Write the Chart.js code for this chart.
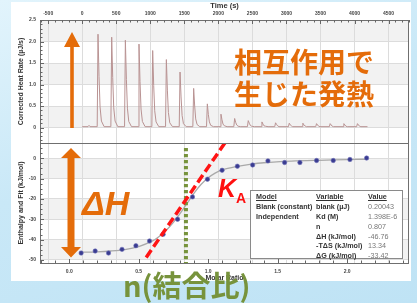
<!DOCTYPE html>
<html lang="ja">
<head>
<meta charset="UTF-8">
<title>ITC titration</title>
<script src="https://cdn.jsdelivr.net/npm/chart.js@4"></script>
<style>
    body {
        margin: 0;
        width: 417px;
        height: 303px;
        overflow: hidden;
        position: relative;
        background: linear-gradient(160deg, #e2f4fc 0%, #c9e8f7 45%, #bfe3f5 100%);
        font-family: "Liberation Sans", Arial, sans-serif;
    }
    #sheet {
        position: absolute;
        left: 11px; top: 2px;
        width: 400px; height: 279px;
        background: #fff;
    }
    canvas { position: absolute; left: 0; }
    #heatChart { top: 0; }
    #bindChart { top: 136px; }
    #ann { position: absolute; left: 0; top: 0; }
    #heatText {
        position: absolute; left: 234px; top: 45px;
        font: bold 28px "Noto Sans CJK JP", sans-serif;
        line-height: 32px; color: #e46c0a; white-space: nowrap;
    }
    #dH {
        position: absolute; left: 82px; top: 186px;
        font: italic bold 34px "Liberation Sans", Arial, sans-serif;
        line-height: 34px; color: #e46c0a;
    }
    #ka {
        position: absolute; left: 218px; top: 176px;
        font: italic bold 25px "Liberation Sans", Arial, sans-serif;
        line-height: 25px; color: #ff1010;
    }
    #ka span { font-style: normal; font-size: 14px; position: relative; top: 6px; }
    #nText {
        position: absolute; left: 123px; top: 267px;
        font: bold 29px "Noto Sans CJK JP", sans-serif;
        line-height: 34px; color: #77933c; white-space: nowrap;
    }
    #fitBox {
        position: absolute; left: 250px; top: 190px;
        width: 153px; height: 69px;
        border: 1px solid #8a8a8a; background: #fff;
        font-size: 7.2px; line-height: 9.9px;
        padding-top: 1px; box-sizing: border-box;
    }
    .row { position: relative; height: 9.9px; }
    .row span { position: absolute; top: 0; white-space: nowrap; }
    .c1 { left: 5px; font-weight: bold; color: #333; }
    .c2 { left: 65px; font-weight: bold; color: #333; }
    .c3 { left: 117px; color: #777; }
    .hd span { text-decoration: underline; font-weight: bold; color: #333; }
</style>
</head>
<body>
<div id="sheet"></div>
<canvas id="heatChart" width="417" height="150"></canvas>
<canvas id="bindChart" width="417" height="147"></canvas>
<svg id="ann" width="417" height="303">
    <polygon fill="#e46c0a" points="70.2,128 73.8,128 73.8,47 80,47 72,32 64,47 70.2,47"/>
    <polygon fill="#e46c0a" points="71,148 81,158 74.5,158 74.5,247 81,247 71,257.5 61,247 67.5,247 67.5,158 61,158"/>
</svg>
<div id="heatText">相互作用で<br>生じた発熱</div>
<div id="dH">ΔH</div>
<div id="ka">K<span>A</span></div>
<div id="fitBox"></div>
<div id="nText">n(結合比)</div>
<script>
// raw heat trace, [time s, rate µJ/s], one row per injection
const heatTrace = [
    [0, 0.02], [85, 0.02], [100, 0.05], [115, 0.02],
    [220, 0.02], [232, 2.17], [247, 1.19], [262, 0.48], [282, 0.15], [322, 0.02],
    [421, 0.02], [433, 2.10], [448, 1.16], [463, 0.46], [483, 0.15], [523, 0.02],
    [622, 0.02], [634, 2.03], [649, 1.12], [664, 0.45], [684, 0.14], [724, 0.02],
    [822, 0.02], [834, 1.94], [849, 1.07], [864, 0.43], [884, 0.14], [924, 0.02],
    [1023, 0.02], [1035, 1.79], [1050, 0.98], [1065, 0.39], [1085, 0.13], [1125, 0.02],
    [1224, 0.02], [1236, 1.58], [1251, 0.87], [1266, 0.35], [1286, 0.11], [1326, 0.02],
    [1425, 0.02], [1437, 1.29], [1452, 0.71], [1467, 0.28], [1487, 0.09], [1527, 0.02],
    [1625, 0.02], [1637, 0.91], [1652, 0.50], [1667, 0.20], [1687, 0.07], [1727, 0.02],
    [1826, 0.02], [1838, 0.55], [1853, 0.30], [1868, 0.13], [1888, 0.05], [1928, 0.02],
    [2026, 0.02], [2038, 0.31], [2053, 0.18], [2068, 0.08], [2088, 0.04], [2128, 0.02],
    [2227, 0.02], [2239, 0.21], [2254, 0.12], [2269, 0.06], [2289, 0.03], [2329, 0.02],
    [2427, 0.02], [2439, 0.16], [2454, 0.10], [2469, 0.05], [2489, 0.03], [2529, 0.02],
    [2628, 0.02], [2640, 0.13], [2655, 0.08], [2670, 0.04], [2690, 0.03], [2730, 0.02],
    [2828, 0.02], [2840, 0.11], [2855, 0.07], [2870, 0.04], [2890, 0.02],
    [3029, 0.02], [3041, 0.10], [3056, 0.06], [3071, 0.04], [3091, 0.02],
    [3229, 0.02], [3241, 0.10], [3256, 0.06], [3271, 0.04], [3291, 0.02],
    [3430, 0.02], [3442, 0.09], [3457, 0.06], [3472, 0.03], [3492, 0.02],
    [3630, 0.02], [3642, 0.09], [3657, 0.06], [3672, 0.03], [3692, 0.02],
    [3831, 0.02], [3843, 0.09], [3858, 0.06], [3873, 0.03], [3893, 0.02],
    [4031, 0.02], [4043, 0.09], [4058, 0.06], [4073, 0.03], [4093, 0.02],
    [4190, 0.02]
];

// integrated heats
const molarRatio = [0.086, 0.187, 0.283, 0.38, 0.48, 0.578, 0.676, 0.78, 0.887, 0.995,
                    1.10, 1.21, 1.32, 1.43, 1.55, 1.66, 1.78, 1.90, 2.02, 2.14];
const enthalpy = [-46.6, -45.6, -46.6, -44.8, -43.0, -40.7, -37.4, -30.0, -19.0, -10.3,
                  -5.9, -3.9, -3.3, -1.3, -2.1, -2.1, -1.1, -1.1, -0.6, 0.1];

// fitted curve
const fitRatio = [0.086, 0.2, 0.3, 0.4, 0.5, 0.6, 0.65, 0.7, 0.75, 0.8, 0.85, 0.9, 0.95,
                  1.0, 1.05, 1.1, 1.2, 1.3, 1.4, 1.6, 1.8, 2.0, 2.14];
const fitEnthalpy = [-46.2, -46.0, -45.6, -44.9, -43.4, -40.6, -38.3, -35.3, -31.5, -27.0, -22.0, -17.0, -12.8,
                     -9.6, -7.3, -5.7, -4.1, -3.0, -2.2, -1.4, -1.0, -0.7, -0.5];

// slope (K_A) and stoichiometry (n) guides
const slopeLine = [[0.554, -48.8], [1.12, 7.5]];
const nLine = [[0.84, 5.1], [0.84, -51.5]];

// tick labels on the time axis
const timeLabels = [-500, 0, 500, 1000, 1500, 2000, 2500, 3000, 3500, 4000, 4500];

const timeTicks = { min: -620, max: 4800, step: 500, minor: 100 };
const rateTicks = { min: -0.36, max: 2.5, step: 0.5, minor: 0.1 };
const ratioTicks = { min: -0.21, max: 2.445, step: 0.5, minor: 0.1 };
const dhTicks = { min: -51.5, max: 7.5, step: 10, minor: 2.5 };

// fit result table
const fitModel = ['Blank (constant)', 'Independent', '', '', '', ''];
const fitVariable = ['blank (µJ)', 'Kd (M)', 'n', 'ΔH (kJ/mol)', '-TΔS (kJ/mol)', 'ΔG (kJ/mol)'];
const fitValue = ['0.20043', '1.398E-6', '0.807', '-46.76', '13.34', '-33.42'];

const box = document.getElementById('fitBox');
let html = '<div class="row hd"><span class="c1">Model</span><span class="c2">Variable</span><span class="c3">Value</span></div>';
for (let i = 0; i < fitVariable.length; i++) {
    html += '<div class="row"><span class="c1">' + fitModel[i] + '</span><span class="c2">' + fitVariable[i] +
            '</span><span class="c3">' + fitValue[i] + '</span></div>';
}
box.innerHTML = html;

const setTimeTicks = s => { s.ticks = timeLabels.map(v => ({ value: v })); };

// bands, frame and inward tick marks
const frame = {
    id: 'frame',
    beforeDraw(chart, args, opts) {
        const { ctx, chartArea: a } = chart;
        const y = chart.scales.y;
        ctx.save();
        ctx.fillStyle = '#f2f2f2';
        opts.bands.forEach(b => {
            const top = y.getPixelForValue(b[1]);
            const bot = y.getPixelForValue(b[0]);
            ctx.fillRect(a.left, top, a.right - a.left, bot - top);
        });
        ctx.restore();
    },
    afterDraw(chart, args, opts) {
        const { ctx, chartArea: a } = chart;
        const x = chart.scales[opts.xScale];
        const y = chart.scales.y;
        ctx.save();
        ctx.strokeStyle = '#6f6f6f';
        ctx.lineWidth = 1;
        ctx.strokeRect(Math.round(a.left) + 0.5, Math.round(a.top) + 0.5,
                       Math.round(a.right - a.left) - 1, Math.round(a.bottom - a.top));
        ctx.strokeStyle = '#666';
        ctx.beginPath();
        const xt = opts.xTicks;
        const edge = opts.xEdge === 'top' ? a.top : a.bottom;
        const dir = opts.xEdge === 'top' ? 1 : -1;
        for (let k = Math.ceil(xt.min / xt.minor); k * xt.minor <= xt.max; k++) {
            const v = k * xt.minor;
            const isMajor = Math.abs(v / xt.step - Math.round(v / xt.step)) < 1e-6;
            const px = Math.round(x.getPixelForValue(v)) + 0.5;
            ctx.moveTo(px, edge);
            ctx.lineTo(px, edge + dir * (isMajor ? 4 : 2.5));
        }
        const yt = opts.yTicks;
        for (let k = Math.ceil(yt.min / yt.minor); k * yt.minor <= yt.max + 1e-9; k++) {
            const v = k * yt.minor;
            const isMajor = Math.abs(v / yt.step - Math.round(v / yt.step)) < 1e-6;
            const py = Math.round(y.getPixelForValue(v)) + 0.5;
            ctx.moveTo(a.left, py);
            ctx.lineTo(a.left + (isMajor ? 4 : 2.5), py);
        }
        ctx.stroke();
        ctx.restore();
    }
};

const tickFont = { family: 'Liberation Sans', size: 5, weight: 'bold' };
const titleFont = { family: 'Liberation Sans', size: 7, weight: 'bold' };

new Chart(document.getElementById('heatChart'), {
    type: 'line',
    data: {
        datasets: [{
            data: heatTrace,
            borderColor: '#b99393',
            borderWidth: 1,
            pointRadius: 0,
            tension: 0
        }]
    },
    options: {
        responsive: false,
        animation: false,
        layout: { padding: { left: 11, right: 8, top: 0, bottom: 7 } },
        plugins: {
            legend: { display: false },
            tooltip: { enabled: false },
            frame: { bands: [[2, 2.5], [1, 1.5], [0, 0.5]], xScale: 'x', xEdge: 'top',
                     xTicks: timeTicks, yTicks: rateTicks }
        },
        scales: {
            x: {
                type: 'linear', position: 'top',
                min: timeTicks.min, max: timeTicks.max,
                afterBuildTicks: setTimeTicks,
                afterFit: s => { s.height = 20; },
                grid: { color: '#dcdcdc', drawTicks: false },
                border: { display: false },
                ticks: { autoSkip: false, maxRotation: 0, padding: 3, font: tickFont, color: '#444',
                         callback: v => String(v) },
                title: { display: true, text: 'Time (s)', color: '#333',
                         font: { family: 'Liberation Sans', size: 7.5, weight: 'bold' }, padding: { top: 1, bottom: 0 } }
            },
            y: {
                min: rateTicks.min, max: rateTicks.max,
                afterFit: s => { s.width = 29; },
                grid: { color: '#dcdcdc', drawTicks: false },
                border: { display: false },
                ticks: { stepSize: rateTicks.step, includeBounds: false, padding: 4, font: tickFont, color: '#444',
                         callback: v => v === 0 ? '0' : v.toFixed(1) },
                title: { display: true, text: 'Corrected Heat Rate (µJ/s)', color: '#333', font: titleFont,
                         padding: { top: 6, bottom: 0 } }
            }
        }
    },
    plugins: [frame]
});

new Chart(document.getElementById('bindChart'), {
    type: 'line',
    data: {
        datasets: [
            { data: slopeLine, borderColor: '#ff1414', borderWidth: 3.5, borderDash: [9, 4],
              pointRadius: 0, borderCapStyle: 'butt' },
            { data: nLine, borderColor: '#77933c', borderWidth: 4, borderDash: [3.3, 2.7],
              pointRadius: 0, borderCapStyle: 'butt' },
            { data: molarRatio.map((r, i) => ({ x: r, y: enthalpy[i] })), showLine: false,
              pointRadius: 2.2, pointBackgroundColor: '#3a3c90', pointBorderColor: '#6d6fb8', pointBorderWidth: 0.6 },
            { data: fitRatio.map((r, i) => ({ x: r, y: fitEnthalpy[i] })), borderColor: '#a9a9a9',
              borderWidth: 1.3, pointRadius: 0, tension: 0.3 }
        ]
    },
    options: {
        responsive: false,
        animation: false,
        layout: { padding: { left: 11, right: 8, top: 7, bottom: 0 } },
        plugins: {
            legend: { display: false },
            tooltip: { enabled: false },
            frame: { bands: [[-10, 0], [-30, -20], [-50, -40]], xScale: 'x', xEdge: 'bottom',
                     xTicks: ratioTicks, yTicks: dhTicks }
        },
        scales: {
            x: {
                type: 'linear', position: 'bottom',
                min: ratioTicks.min, max: ratioTicks.max,
                afterFit: s => { s.height = 20; },
                grid: { display: false, drawTicks: false },
                border: { display: false },
                ticks: { stepSize: ratioTicks.step, includeBounds: false, autoSkip: false, maxRotation: 0,
                         padding: 6, font: tickFont, color: '#444', callback: v => v.toFixed(1) },
                title: { display: true, text: 'Molar Ratio', color: '#333', font: titleFont,
                         padding: { top: 0, bottom: 1 } }
            },
            x2: {
                type: 'linear', position: 'bottom',
                min: timeTicks.min, max: timeTicks.max,
                afterBuildTicks: setTimeTicks,
                afterFit: s => { s.height = 0; },
                grid: { color: '#dcdcdc', drawTicks: false },
                border: { display: false },
                ticks: { display: false }
            },
            y: {
                min: dhTicks.min, max: dhTicks.max,
                afterFit: s => { s.width = 29; },
                grid: { color: '#dcdcdc', drawTicks: false },
                border: { display: false },
                ticks: { stepSize: dhTicks.step, includeBounds: false, padding: 4, font: tickFont, color: '#444' },
                title: { display: true, text: 'Enthalpy and Fit (kJ/mol)', color: '#333', font: titleFont,
                         padding: { top: 6, bottom: 0 } }
            }
        }
    },
    plugins: [frame]
});
</script>
</body>
</html>
